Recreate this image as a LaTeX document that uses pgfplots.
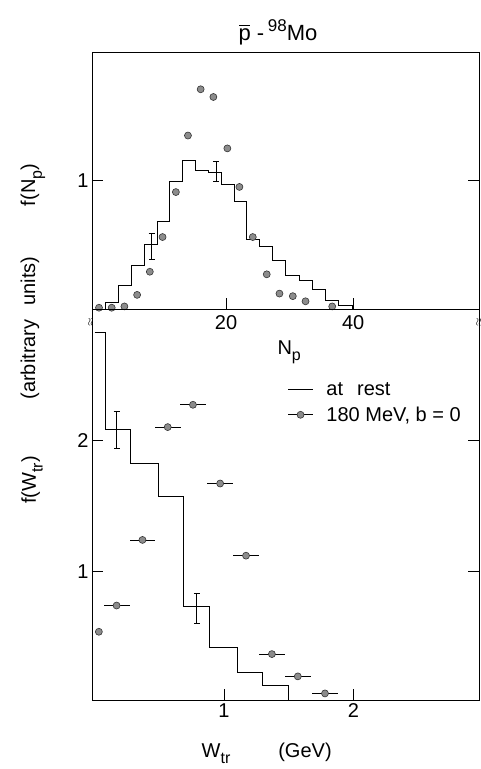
\documentclass[border=0pt]{standalone}
\usepackage{fontspec}
\setmainfont{Liberation Sans}
\usepackage{pgfplots}
\pgfplotsset{compat=1.18}

% lowered, slightly smaller subscript as used in the hand lettering
\newcommand\lo[1]{\raisebox{-0.34em}{\fontsize{16}{16}\selectfont #1}}
% antiproton: p with an overbar
\newcommand\pbar{\ooalign{p\cr\hidewidth\rule[0.66em]{0.5em}{0.055em}\hidewidth\cr}}
\newcommand\lettering{\fontsize{20}{23}\selectfont}

\pgfplotsset{
  every axis/.append style={
    scale only axis,
    axis line style={line width=0.9pt},
    every tick/.style={line width=0.8pt, black},
    major tick length=11pt,
    tick label style={font=\lettering},
    /pgf/number format/assume math mode=true,
  },
  dots/.style={only marks, mark=*, mark size=3.5pt,
    mark options={fill=black!45, draw=black!80, line width=0.6pt}},
}

\begin{document}
\begin{tikzpicture}
\useasboundingbox (-92pt,-460pt) rectangle (389pt,309pt);

% ---------------- upper panel: f(N_p) ----------------
\begin{axis}[
  at={(0pt,0pt)}, anchor=south west,
  width=387pt, height=257pt,
  xmin=-1.1, xmax=59.8, ymin=0, ymax=2.0,
  xtick={20,40}, ytick={1},
  xtick pos=left, ytick pos=both, yticklabel pos=left,
  xticklabel style={yshift=-3pt},
  clip=false,
]
% at rest: histogram in bins of two protons
\addplot[const plot, line width=0.8pt] table {
x y
1.0 0
1.0 0.05
3.0 0.18
5.1 0.34
7.2 0.50
9.2 0.68
11.1 0.99
13.1 1.16
15.2 1.08
17.2 1.06
19.3 0.97
21.3 0.84
23.2 0.54
25.3 0.49
27.3 0.38
29.4 0.26
31.5 0.22
33.6 0.15
35.7 0.07
37.7 0.03
39.9 0
};
% statistical errors of the histogram
\addplot[draw=none, mark=none, forget plot,
  error bars/.cd, y dir=both, y explicit,
  error mark=-, error mark options={rotate=90, mark size=3pt, line width=0.7pt, black},
  error bar style={draw=black, line width=0.7pt}]
  table[y error=e] {
x y e
8.3 0.49 0.10
18.4 1.07 0.08
};
% 180 MeV, b = 0
\addplot[dots] table {
x y
0 0.01
2 0.01
4 0.02
6 0.11
8 0.29
10 0.56
12.1 0.91
14 1.35
16 1.71
18 1.65
20.2 1.25
22.1 0.95
24.2 0.56
26.4 0.27
28.4 0.12
30.5 0.10
32.5 0.06
36.7 0.02
};
\end{axis}

% ---------------- lower panel: f(W_tr) ----------------
\begin{axis}[
  at={(0pt,0pt)}, anchor=north west,
  width=387pt, height=391pt,
  xmin=-0.02, xmax=2.97, ymin=0.02, ymax=3.0,
  xtick={1,2}, ytick={1,2},
  xtick pos=left, ytick pos=both, yticklabel pos=left,
  legend style={at={(axis cs:1.49,2.45)}, anchor=north west,
    draw=none, fill=none, font=\lettering, row sep=8pt, inner sep=0pt,
    nodes={inner sep=1pt},
    /tikz/every odd column/.append style={column sep=12pt}},
  legend cell align=left,
]
\addplot[const plot, line width=0.8pt,
  legend image code/.code={\draw[line width=0.8pt] (0pt,0pt) -- (25pt,0pt);}]
  table {
x y
0 2.82
0.08 2.08
0.28 1.82
0.49 1.57
0.69 0.73
0.89 0.42
1.10 0.23
1.30 0.13
1.50 0.02
};
\addlegendentry{at\hspace{0.7em}rest}
\addplot[draw=none, mark=none, forget plot,
  error bars/.cd, y dir=both, y explicit,
  error mark=-, error mark options={rotate=90, mark size=3pt, line width=0.7pt, black},
  error bar style={draw=black, line width=0.7pt}]
  table[y error=e] {
x y e
0.17 2.08 0.14
0.79 0.72 0.115
};
\addplot[dots,
  legend image code/.code={
    \draw[line width=0.7pt, black] (0pt,0pt) -- (25pt,0pt);
    \draw[fill=black!45, draw=black!80, line width=0.6pt] (12.5pt,0pt) circle (3.5pt);},
  error bars/.cd, x dir=both, x explicit, error mark=none,
  error bar style={draw=black, line width=0.7pt}]
  table[x error=e] {
x y e
0.033 0.54 0
0.17 0.74 0.1
0.37 1.24 0.1
0.565 2.10 0.1
0.76 2.27 0.1
0.97 1.67 0.1
1.17 1.12 0.1
1.37 0.37 0.1
1.57 0.20 0.1
1.78 0.07 0.1
};
\addlegendentry{180 MeV, b = 0}
\end{axis}

% axis-break marks on the shared border
\node[font=\fontsize{11}{11}\selectfont, rotate=90] at (-1pt,-13pt) {$\approx$};
\node[font=\fontsize{11}{11}\selectfont, rotate=90] at (387pt,-13pt) {$\approx$};

% titles and axis labels
\node[font=\fontsize{22}{24}\selectfont] at (186pt,279pt)
  {\pbar\ -\,\raisebox{0.42em}{\fontsize{17}{17}\selectfont 98}Mo};
\node[font=\lettering, anchor=base west] at (182pt,-45pt) {N\lo{p}};
\node[font=\lettering, anchor=base] at (124pt,-448pt) {W\lo{tr}};
\node[font=\lettering, anchor=base] at (213pt,-448pt) {(GeV)};
\node[font=\lettering, rotate=90] at (-59pt,124pt) {f(N\lo{p})};
\node[font=\lettering, rotate=90] at (-62pt,-19pt) {(arbitrary\hspace{0.7em}units)};
\node[font=\lettering, rotate=90] at (-60pt,-171pt) {f(W\lo{tr})};
\end{tikzpicture}
\end{document}
